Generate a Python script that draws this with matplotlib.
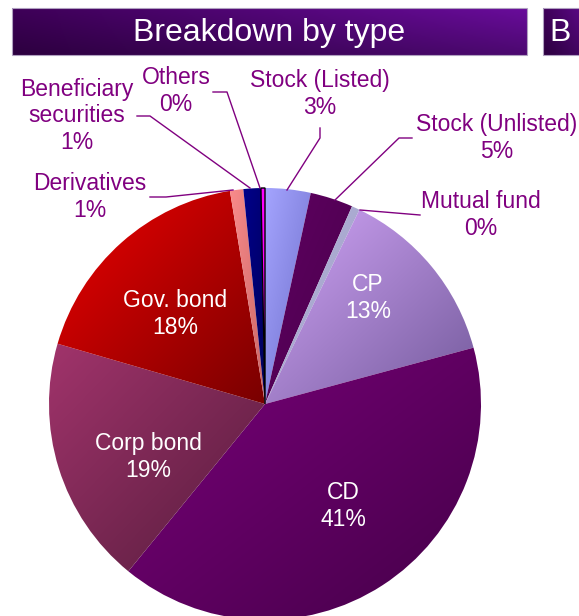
import numpy as np
import matplotlib
matplotlib.use("Agg")
import matplotlib.pyplot as plt
from matplotlib.patches import Rectangle

plt.rcParams['font.family'] = ['Liberation Sans', 'DejaVu Sans']

# ---- data ----
categories = ["Stock (Listed)", "Stock (Unlisted)", "Mutual fund", "CP", "CD",
              "Corp bond", "Gov. bond", "Derivatives", "Beneficiary\nsecurities", "Others"]
values = [3.4, 3.2, 0.6, 13.6, 40.1, 18.6, 17.9, 1.0, 1.3, 0.3]
pct_labels = ["3%", "5%", "0%", "13%", "41%", "19%", "18%", "1%", "1%", "0%"]
title = "Breakdown by type"
title2 = "B"

# gradient colours (light, dark) per slice
light_cols = [(165, 165, 255), (96, 0, 98), (185, 185, 222), (210, 165, 248), (122, 0, 122),
              (162, 52, 108), (238, 0, 0), (250, 140, 140), (0, 0, 140), (255, 0, 255)]
dark_cols = [(108, 108, 200), (72, 0, 74), (155, 155, 195), (115, 90, 155), (68, 0, 72),
             (85, 28, 60), (120, 0, 0), (200, 100, 100), (0, 0, 90), (255, 0, 255)]

W, H = 579, 616
fig = plt.figure(figsize=(W / 100, H / 100), dpi=100)
ax = fig.add_axes([0, 0, 1, 1])


def Y(y):
    return H - y


# ---- banners ----
def banner(x0, x1, y0, y1):
    u = np.linspace(0, 1, 200)[None, :]
    v = np.linspace(0, 1, 40)[:, None]  # 0 top, 1 bottom
    c_left = np.array([62, 0, 88]) / 255
    c_right = np.array([105, 12, 155]) / 255
    base = c_left[None, None, :] * (1 - u[..., None]) + c_right[None, None, :] * u[..., None]
    shade = 1 - 0.28 * v[..., None]
    img = np.clip(base * shade, 0, 1)
    ax.imshow(img, extent=[x0, x1, Y(y1), Y(y0)], origin='upper', aspect='auto', zorder=1)
    ax.add_patch(Rectangle((x0, Y(y1)), x1 - x0, y1 - y0, fill=False,
                           edgecolor='#b0a0c0', lw=0.8, zorder=2))


banner(12, 527, 8, 55)
banner(543, 600, 8, 55)
ax.text(269, Y(33), title, color='white', fontsize=23, ha='center', va='center', zorder=3)
ax.text(549, Y(33), title2, color='white', fontsize=23, ha='left', va='center', zorder=3)

# ---- pie ----
cx, cy, r = 265, Y(404), 216
wedges, _ = ax.pie(values, startangle=90, counterclock=False, center=(cx, cy), radius=r,
                   wedgeprops=dict(edgecolor='none', linewidth=0), frame=True)

n = 200
uu, vv = np.meshgrid(np.linspace(0, 1, n), np.linspace(0, 1, n))
t = (uu + vv) / 2
for i, w in enumerate(wedges):
    lc = np.array(light_cols[i]) / 255
    dc = np.array(dark_cols[i]) / 255
    img = lc[None, None, :] * (1 - t[..., None]) + dc[None, None, :] * t[..., None]
    verts = w.get_path().vertices
    bx0, by0 = verts.min(axis=0)
    bx1, by1 = verts.max(axis=0)
    im = ax.imshow(img, extent=[bx0 - 1, bx1 + 1, by0 - 1, by1 + 1], origin='upper',
                   aspect='auto', zorder=2)
    im.set_clip_path(w)
    w.set_facecolor('none')
    w.set_zorder(3)
    if categories[i] == "Others":
        w.set_edgecolor('black')
        w.set_linewidth(1.0)

ax.set_xlim(0, W)
ax.set_ylim(0, H)
ax.set_aspect('auto')
ax.axis('off')

# ---- labels ----
purple = '#800080'
fs = 16.5
outside = {
    0: (320, 94),
    1: (497, 138),
    2: (481, 215),
    7: (90, 197),
    8: (77, 116),
    9: (176, 91),
}
inside = {
    3: (368, 298),
    4: (343, 506),
    5: (148, 457),
    6: (175, 314),
}
for i, (x, y) in outside.items():
    ax.text(x, Y(y), categories[i] + "\n" + pct_labels[i], color=purple, fontsize=fs,
            ha='center', va='center', linespacing=1.22, zorder=5)
for i, (x, y) in inside.items():
    ax.text(x, Y(y), categories[i] + "\n" + pct_labels[i], color='white', fontsize=fs,
            ha='center', va='center', linespacing=1.22, zorder=5)

# leader lines
leaders = [
    [(320, 128), (320, 138), (287, 190)],
    [(412, 138), (399, 138), (335, 200)],
    [(420, 215), (360, 210)],
    [(150, 197), (166, 197), (233, 190)],
    [(137, 116), (150, 116), (250, 188)],
    [(213, 92), (227, 92), (260, 188)],
]
for pts in leaders:
    xs = [p[0] for p in pts]
    ys = [Y(p[1]) for p in pts]
    ax.plot(xs, ys, color=purple, lw=1.0, zorder=6)

fig.savefig("out.png", dpi=100)
